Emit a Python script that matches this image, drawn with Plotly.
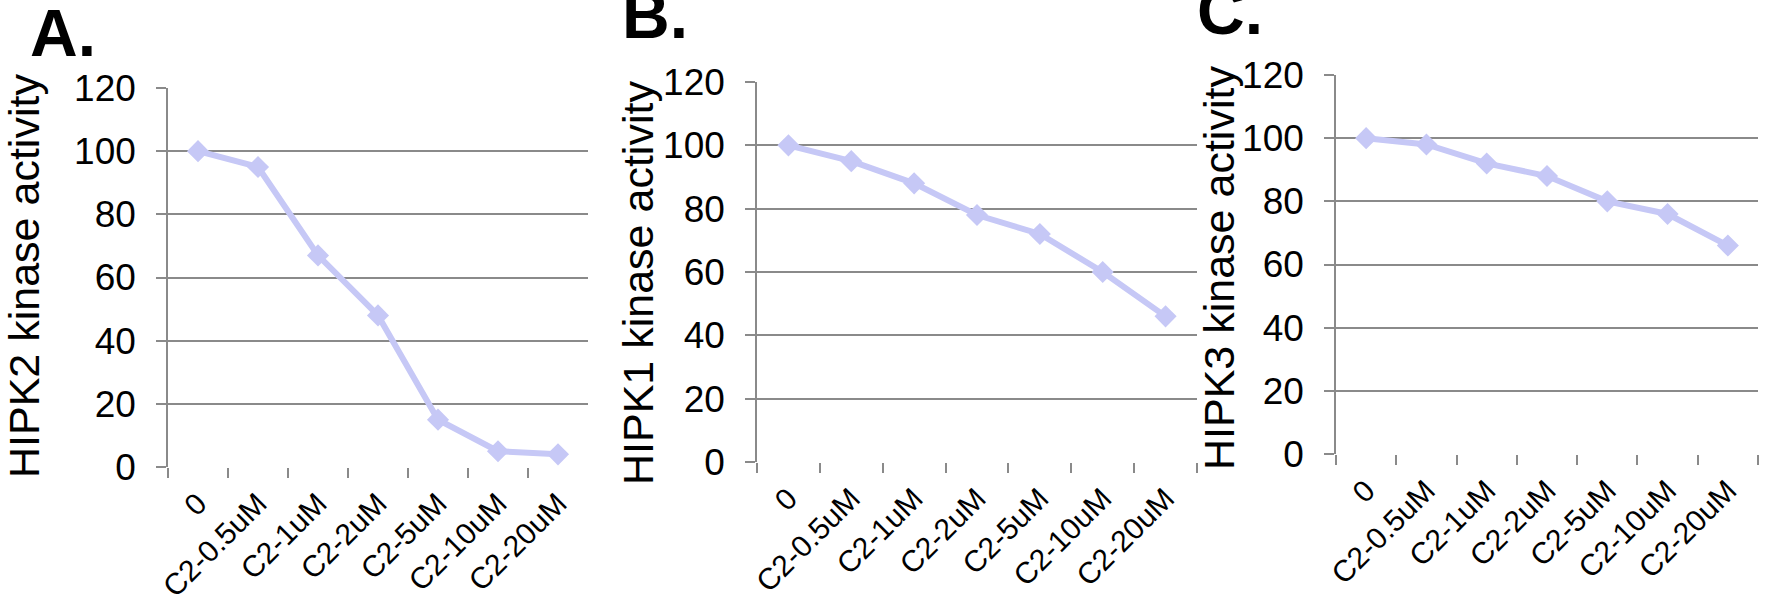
import plotly.graph_objects as go

categories = ["0", "C2-0.5uM", "C2-1uM", "C2-2uM", "C2-5uM", "C2-10uM", "C2-20uM"]
hipk2_activity = [100, 95, 67, 48, 15, 5, 4]
hipk1_activity = [100, 95, 88, 78, 72, 60, 46]
hipk3_activity = [100, 98, 92, 88, 80, 76, 66]
y_ticks = [0, 20, 40, 60, 80, 100, 120]

W, H = 1765, 604
LINE_COLOR = "rgb(198,200,246)"
GRID_COLOR = "#8a8a8a"
FONT = "Arial, Liberation Sans, sans-serif"

# panel geometry in pixels: (left, right, top, bottom), axis-title centre, panel-letter centre
panels = [
    ("A.", "HIPK2 kinase activity", hipk2_activity, (168, 588, 88, 467), (24, 276), (63, 33)),
    ("B.", "HIPK1 kinase activity", hipk1_activity, (757, 1197, 82, 462), (638, 283), (655, 15)),
    ("C.", "HIPK3 kinase activity", hipk3_activity, (1336, 1758, 75, 454), (1219, 268), (1230, 11)),
]

fig = go.Figure()
annotations = []
for i, (letter, title, values, (l, r, t, b), (tx, ty), (lx, ly)) in enumerate(panels):
    suffix = "" if i == 0 else str(i + 1)
    fig.add_trace(go.Scatter(
        x=categories, y=values, mode="lines+markers",
        line=dict(color=LINE_COLOR, width=6),
        marker=dict(symbol="diamond", size=17, color=LINE_COLOR),
        xaxis="x" + suffix, yaxis="y" + suffix, showlegend=False,
    ))
    fig.layout["xaxis" + suffix] = dict(
        domain=[l / W, r / W], anchor="y" + suffix,
        type="category", tickson="boundaries",
        ticks="outside", ticklen=10, tickwidth=1.5, tickcolor=GRID_COLOR,
        showline=False, showgrid=False, zeroline=False, automargin=False,
        tickangle=-45, ticklabelstandoff=12,
        tickfont=dict(family=FONT, size=30, color="black"),
        range=[-0.5, 6.5], fixedrange=True,
    )
    fig.layout["yaxis" + suffix] = dict(
        domain=[1 - b / H, 1 - t / H], anchor="x" + suffix,
        range=[0, 120], tickvals=y_ticks,
        ticks="outside", ticklen=10, tickwidth=1.5, tickcolor=GRID_COLOR,
        showgrid=True, gridcolor=GRID_COLOR, gridwidth=1.5,
        showline=True, linecolor=GRID_COLOR, linewidth=1.5,
        zeroline=False, ticklabelstandoff=13, automargin=False,
        tickfont=dict(family=FONT, size=37, color="black"), fixedrange=True,
    )
    annotations.append(dict(
        text=title, textangle=-90, xref="paper", yref="paper",
        x=tx / W, y=1 - ty / H, xanchor="center", yanchor="middle",
        showarrow=False, font=dict(family=FONT, size=43, color="black"),
    ))
    annotations.append(dict(
        text="<b>" + letter + "</b>", xref="paper", yref="paper",
        x=lx / W, y=1 - ly / H, xanchor="center", yanchor="middle",
        showarrow=False, font=dict(family=FONT, size=66, color="black"),
    ))

fig.update_layout(
    width=W, height=H, margin=dict(l=0, r=0, t=0, b=0, autoexpand=False),
    paper_bgcolor="white", plot_bgcolor="white",
    annotations=annotations,
)
fig.write_html("out.html")
